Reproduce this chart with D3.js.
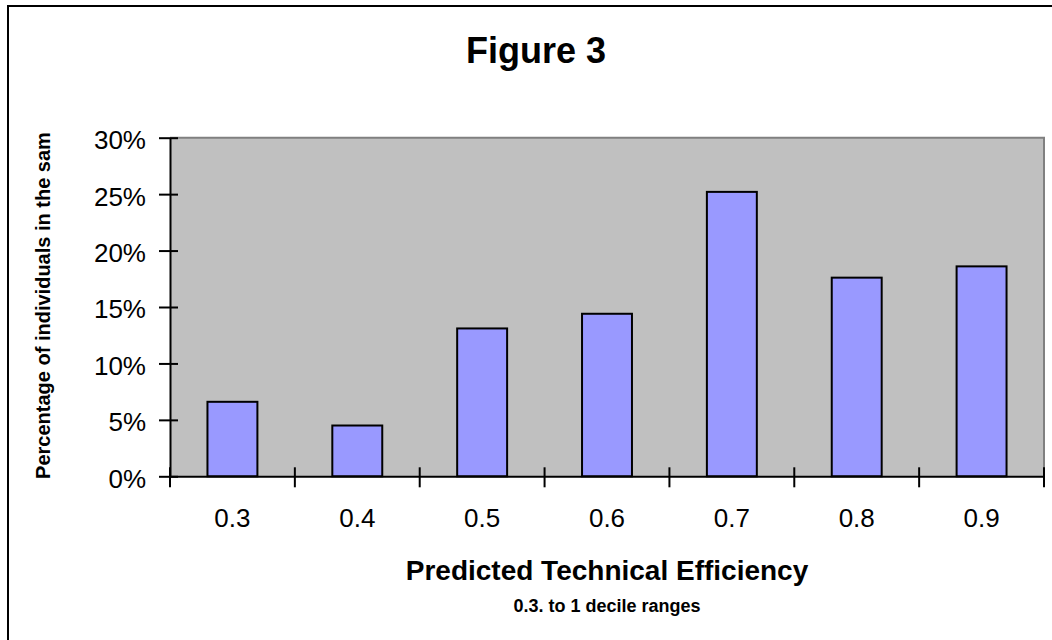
<!DOCTYPE html>
<html>
<head>
<meta charset="utf-8">
<script src="https://cdn.jsdelivr.net/npm/d3@7"></script>
<style>
  html, body { margin: 0; padding: 0; background: #fff; }
  svg { display: block; font-family: Arial, "Liberation Sans", sans-serif; }
</style>
</head>
<body>
<svg id="chart" width="1052" height="640"></svg>
<script>
const categories = ["0.3", "0.4", "0.5", "0.6", "0.7", "0.8", "0.9"];
const values = [6.6, 4.5, 13.1, 14.4, 25.2, 17.6, 18.6];
const yTicks = [0, 5, 10, 15, 20, 25, 30];
const titleText = "Figure 3";
const yTitle = "Percentage of individuals in the sam";
const xTitle = "Predicted Technical Efficiency";
const xSubtitle = "0.3. to 1 decile ranges";

const svg = d3.select("#chart");
const plot = { left: 170, right: 1044, top: 137.7, bottom: 476.3 };

// outer chart border (cropped at right and bottom)
svg.append("rect")
  .attr("x", 8).attr("y", 6)
  .attr("width", 1200).attr("height", 800)
  .attr("fill", "#fff").attr("stroke", "#000").attr("stroke-width", 2);

const x = d3.scaleBand()
  .domain(categories)
  .range([plot.left, plot.right])
  .paddingInner(0.6)
  .paddingOuter(0.3);
const step = x.step();

const y = d3.scaleLinear().domain([0, 30]).range([plot.bottom, plot.top]);

// plot area
svg.append("rect")
  .attr("x", plot.left).attr("y", plot.top)
  .attr("width", plot.right - plot.left).attr("height", plot.bottom - plot.top)
  .attr("fill", "#c0c0c0");
svg.append("path")
  .attr("d", `M${plot.left},${plot.top}H${plot.right}V${plot.bottom}`)
  .attr("fill", "none").attr("stroke", "#808080").attr("stroke-width", 2);

// bars
svg.selectAll("rect.bar")
  .data(categories)
  .join("rect")
  .attr("class", "bar")
  .attr("x", d => x(d))
  .attr("width", x.bandwidth())
  .attr("y", (d, i) => y(values[i]))
  .attr("height", (d, i) => y(0) - y(values[i]))
  .attr("fill", "#9999ff")
  .attr("stroke", "#000")
  .attr("stroke-width", 2);

// y axis
const yAxis = d3.axisLeft(y)
  .tickValues(yTicks)
  .tickFormat(d => d + "%")
  .tickSizeInner(0).tickSizeOuter(0).tickPadding(24);
const gy = svg.append("g").attr("transform", `translate(${plot.left},0)`).call(yAxis);
gy.select(".domain").attr("stroke", "#000").attr("stroke-width", 2);
gy.selectAll(".tick text")
  .attr("font-size", 26).attr("fill", "#000")
  .attr("font-family", "Arial, 'Liberation Sans', sans-serif")
  .attr("dy", "0.42em");
gy.selectAll(".tick").append("line")
  .attr("x1", -11).attr("x2", 8)
  .attr("stroke", "#000").attr("stroke-width", 2);

// x axis
const xAxis = d3.axisBottom(x).tickSize(0).tickPadding(32);
const gx = svg.append("g").attr("transform", `translate(0,${plot.bottom})`).call(xAxis);
gx.select(".domain").attr("stroke", "#000").attr("stroke-width", 2);
gx.selectAll(".tick text")
  .attr("font-size", 26).attr("fill", "#000")
  .attr("font-family", "Arial, 'Liberation Sans', sans-serif");
// tick marks at category boundaries
const boundaries = [categories[0]].concat(categories).map((c, i) =>
  i === 0 ? x(categories[0]) - step * 0.3 : x(categories[i - 1]) - step * 0.3 + step);
gx.selectAll("line.bound")
  .data(boundaries)
  .join("line")
  .attr("class", "bound")
  .attr("x1", d => d).attr("x2", d => d)
  .attr("y1", -9).attr("y2", 11)
  .attr("stroke", "#000").attr("stroke-width", 2);

// titles
svg.append("text")
  .attr("x", 536).attr("y", 62.5)
  .attr("text-anchor", "middle")
  .attr("font-size", 36).attr("font-weight", "bold")
  .text(titleText);

svg.append("text")
  .attr("transform", "translate(50,305.5) rotate(-90)")
  .attr("text-anchor", "middle")
  .attr("font-size", 20).attr("font-weight", "bold")
  .text(yTitle);

svg.append("text")
  .attr("x", (plot.left + plot.right) / 2).attr("y", 580)
  .attr("text-anchor", "middle")
  .attr("font-size", 28).attr("font-weight", "bold")
  .text(xTitle);

svg.append("text")
  .attr("x", (plot.left + plot.right) / 2).attr("y", 612)
  .attr("text-anchor", "middle")
  .attr("font-size", 18).attr("font-weight", "bold")
  .text(xSubtitle);
</script>
</body>
</html>
